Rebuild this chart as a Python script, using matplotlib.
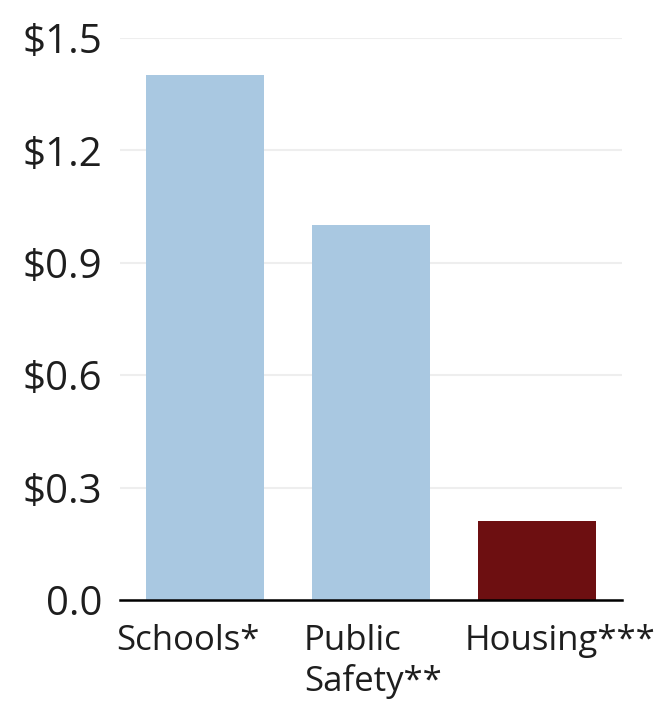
import matplotlib
matplotlib.use("Agg")
import matplotlib.pyplot as plt
from matplotlib.transforms import ScaledTranslation

categories = ["Schools*", "Public\nSafety**", "Housing***"]
values = [1.40, 1.00, 0.21]
colors = ["#a9c8e1", "#a9c8e1", "#6d0f11"]
yticks = [0.0, 0.3, 0.6, 0.9, 1.2, 1.5]
ytick_labels = ["0.0", "$0.3", "$0.6", "$0.9", "$1.2", "$1.5"]

plt.rcParams['font.family'] = ['Open Sans', 'DejaVu Sans']

fig = plt.figure(figsize=(6.64, 7.08), dpi=100)
ax = fig.add_axes([0.1807, 0.1525, 0.756, 0.7938])
x = list(range(len(categories)))
ax.bar(x, values, width=0.71, color=colors, zorder=3)
ax.set_xlim(-0.51, 2.51)
ax.set_ylim(0, 1.5)
ax.set_yticks(yticks)
ax.set_yticklabels(ytick_labels, fontsize=29, color="#1e1e1e")
ax.set_xticks(x)
ax.set_xticklabels(categories, fontsize=25, color="#1e1e1e", linespacing=1.25,
                   multialignment='left')
ax.tick_params(axis='x', length=0, pad=17)
ax.tick_params(axis='y', length=0, pad=13)
offsets_px = [-17, 2, 23]
for lab, dx in zip(ax.get_xticklabels(), offsets_px):
    lab.set_transform(lab.get_transform() + ScaledTranslation(dx / 100, 0, fig.dpi_scale_trans))
for s in ["top", "right", "left"]:
    ax.spines[s].set_visible(False)
ax.spines["bottom"].set_linewidth(1.8)
ax.spines["bottom"].set_zorder(4)
ax.yaxis.grid(True, color="#eeeeee", linewidth=1.5, zorder=0)
ax.set_axisbelow(True)
fig.savefig("out.png", dpi=100)
